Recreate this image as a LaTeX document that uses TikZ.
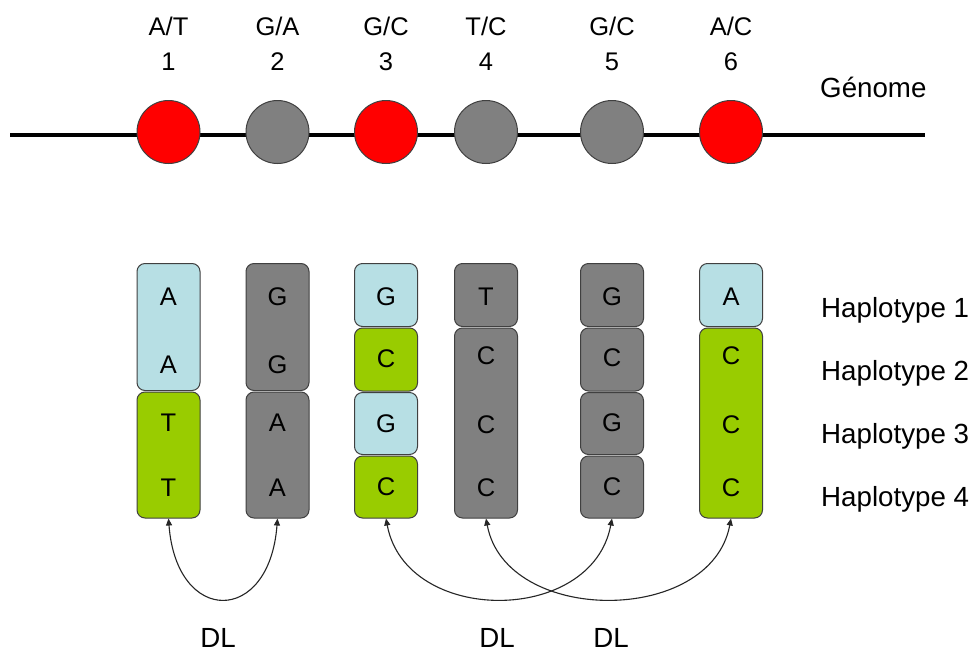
\documentclass[tikz,border=0pt]{standalone}
\usepackage{fontspec}
\setmainfont{Liberation Sans}
\usetikzlibrary{arrows.meta}
\definecolor{lblue}{RGB}{183,223,228}
\definecolor{lgreen}{RGB}{153,204,0}
\definecolor{mgray}{RGB}{128,128,128}
\definecolor{edge}{RGB}{64,64,64}
\definecolor{snpred}{RGB}{255,0,0}
\tikzset{
  hbox/.style={draw=edge, line width=1pt, rounded corners=8pt, minimum width=63pt, inner sep=0pt},
  snp/.style={circle, draw=edge, line width=1pt, minimum size=63pt, inner sep=0pt},
  lab/.style={font=\fontsize{25.5}{30}\selectfont, inner sep=0pt, anchor=base},
  big/.style={font=\fontsize{27.7}{33}\selectfont, inner sep=0pt, anchor=base west},
  let/.style={font=\fontsize{25.5}{30}\selectfont, inner sep=0pt},
  dllab/.style={font=\fontsize{27.7}{33}\selectfont, inner sep=0pt, anchor=base},
  dl/.style={draw=black!85, line width=1.1pt, {Triangle[length=7pt,width=6pt]}-{Triangle[length=7pt,width=6pt]}},
}
\begin{document}
\begin{tikzpicture}[x=1pt,y=-1pt]
\useasboundingbox (0,0) rectangle (975,654);
\fill[white] (0,0) rectangle (975,654);
% genome line
\coordinate (L) at (10,135);
\coordinate (R) at (925,135);
\draw[line width=3.5pt] (L) -- (R);
\node[snp, fill=snpred] (s1) at (168.5,132) {};
\node[snp, fill=mgray]  (s2) at (277.5,132) {};
\node[snp, fill=snpred] (s3) at (386,132) {};
\node[snp, fill=mgray]  (s4) at (486,132) {};
\node[snp, fill=mgray]  (s5) at (612,132) {};
\node[snp, fill=snpred] (s6) at (731,132) {};
% top labels
\node[lab] (t1) at (168.5,35) {A/T};
\node[lab] (t2) at (277.5,35) {G/A};
\node[lab] (t3) at (386,35) {G/C};
\node[lab] (t4) at (486,35) {T/C};
\node[lab] (t5) at (612,35) {G/C};
\node[lab] (t6) at (731,35) {A/C};
\node[lab] (n1) at (168.5,70) {1};
\node[lab] (n2) at (277.5,70) {2};
\node[lab] (n3) at (386,70) {3};
\node[lab] (n4) at (486,70) {4};
\node[lab] (n5) at (612,70) {5};
\node[lab] (n6) at (731,70) {6};
\node[big] (gen) at (820,97) {Génome};
% column 1
\node[hbox, fill=lblue, minimum height=127pt] (c1a) at (168.5,327) {};
\node[hbox, fill=lgreen, minimum height=126pt] (c1b) at (168.5,455) {};
% column 2
\node[hbox, fill=mgray, minimum height=127pt] (c2a) at (277.5,327) {};
\node[hbox, fill=mgray, minimum height=126pt] (c2b) at (277.5,455) {};
% column 3
\node[hbox, fill=lblue, minimum height=63pt] (c3a) at (386,295) {};
\node[hbox, fill=lgreen, minimum height=63pt] (c3b) at (386,359.5) {};
\node[hbox, fill=lblue, minimum height=62pt] (c3c) at (386,423.5) {};
\node[hbox, fill=lgreen, minimum height=62pt] (c3d) at (386,487) {};
% column 4
\node[hbox, fill=mgray, minimum height=63pt] (c4a) at (486,295) {};
\node[hbox, fill=mgray, minimum height=190pt] (c4b) at (486,423) {};
% column 5
\node[hbox, fill=mgray, minimum height=63pt] (c5a) at (612,295) {};
\node[hbox, fill=mgray, minimum height=63pt] (c5b) at (612,359.5) {};
\node[hbox, fill=mgray, minimum height=62pt] (c5c) at (612,423.5) {};
\node[hbox, fill=mgray, minimum height=62pt] (c5d) at (612,487) {};
% column 6
\node[hbox, fill=lblue, minimum height=63pt] (c6a) at (731,295) {};
\node[hbox, fill=lgreen, minimum height=190pt] (c6b) at (731,423) {};
% letters
\node[let] at (168.5,297) {A};
\node[let] at (168.5,365) {A};
\node[let] at (168.5,423) {T};
\node[let] at (168.5,488) {T};
\node[let] at (277.5,297) {G};
\node[let] at (277.5,365) {G};
\node[let] at (277.5,423) {A};
\node[let] at (277.5,488) {A};
\node[let] at (386,297) {G};
\node[let] at (386,359) {C};
\node[let] at (386,424) {G};
\node[let] at (386,487) {C};
\node[let] at (486,297) {T};
\node[let] at (486,356) {C};
\node[let] at (486,425) {C};
\node[let] at (486,488) {C};
\node[let] at (612,297) {G};
\node[let] at (612,358) {C};
\node[let] at (612,423) {G};
\node[let] at (612,487) {C};
\node[let] at (731,297) {A};
\node[let] at (731,356) {C};
\node[let] at (731,425) {C};
\node[let] at (731,488) {C};
% haplotype labels
\node[big] (h1) at (821,317) {Haplotype 1};
\node[big] (h2) at (821,380) {Haplotype 2};
\node[big] (h3) at (821,443) {Haplotype 3};
\node[big] (h4) at (821,506) {Haplotype 4};
% DL arrows
\draw[dl] (c1b.south) .. controls +(8,107) and +(-8,107) .. (c2b.south);
\draw[dl] (c3d.south) .. controls +(20,107) and +(-20,107) .. (c5d.south);
\draw[dl] (c4b.south) .. controls +(20,107) and +(-20,107) .. (c6b.south);
\node[dllab] (d1) at (218,647) {DL};
\node[dllab] (d2) at (497,647) {DL};
\node[dllab] (d3) at (611,647) {DL};
\end{tikzpicture}
\end{document}
